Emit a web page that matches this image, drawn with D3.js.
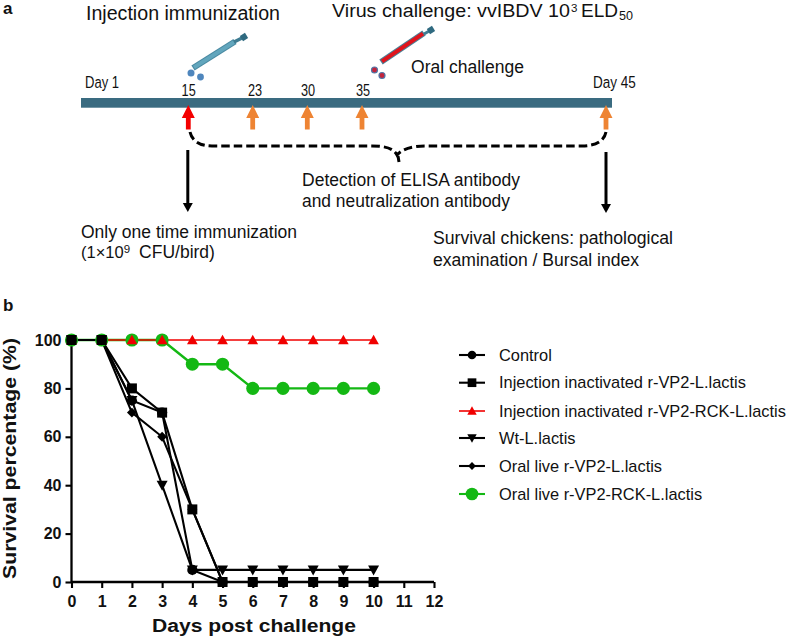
<!DOCTYPE html>
<html><head><meta charset="utf-8"><script src="https://cdnjs.cloudflare.com/ajax/libs/d3/7.8.5/d3.min.js"></script>
<style>html,body{margin:0;padding:0;background:#fff}svg{display:block}text{font-family:"Liberation Sans",Arial,sans-serif;fill:#111}</style></head><body><svg id="c" width="797" height="637"></svg>
<script>
const days=[0,1,2,3,4,5,6,7,8,9,10];
const xTicks=[0,1,2,3,4,5,6,7,8,9,10,11,12];
const yTicks=[0,20,40,60,80,100];
const seriesNames=["Control","Injection inactivated r-VP2-L.lactis","Injection inactivated r-VP2-RCK-L.lactis","Wt-L.lactis","Oral live r-VP2-L.lactis","Oral live r-VP2-RCK-L.lactis"];
const control=[100,100,75,70,5,0,0,0,0,0,0];
const injVP2=[100,100,80,70,30,0,0,0,0,0,0];
const injRCK=[100,100,100,100,100,100,100,100,100,100,100];
const wt=[100,100,75,40,5,5,5,5,5,5,5];
const oralVP2=[100,100,70,60,30,0,0,0,0,0,0];
const oralRCK=[100,100,100,100,90,90,80,80,80,80,80];
const scheduleDays=[15,23,30,35,45];
const svg=d3.select("#c");
const x=d3.scaleLinear().domain([0,12]).range([71.5,434]);
const y=d3.scaleLinear().domain([0,100]).range([582,340]);
const sym=(t,s)=>d3.symbol().type(t).size(s)();
const down={draw(c,s){const r=Math.sqrt(s)/1.5;c.moveTo(-r,-r*.8);c.lineTo(r,-r*.8);c.lineTo(0,r);c.closePath();}};
const up={draw(c,s){const r=Math.sqrt(s)/1.5;c.moveTo(-r,r*.8);c.lineTo(r,r*.8);c.lineTo(0,-r);c.closePath();}};
const dia={draw(c,s){const r=Math.sqrt(s)/1.4;c.moveTo(0,-r);c.lineTo(r,0);c.lineTo(0,r);c.lineTo(-r,0);c.closePath();}};
const S={
 control:{v:control,color:"#000",lw:2.1,type:d3.symbolCircle,size:82,ls:58},
 injVP2:{v:injVP2,color:"#000",lw:2.1,type:d3.symbolSquare,size:100,ls:76},
 oralVP2:{v:oralVP2,color:"#000",lw:2.1,type:dia,size:48,ls:30},
 wt:{v:wt,color:"#000",lw:2.1,type:down,size:68,ls:50},
 oralRCK:{v:oralRCK,color:"#14b814",lw:2.4,type:d3.symbolCircle,size:135,ls:125},
 injRCK:{v:injRCK,color:"#f00000",lw:1.3,type:up,size:64,ls:50}};
const line=d3.line().x((d,i)=>x(days[i])).y(d=>y(d));
const T=(s,px,py,size,o={})=>{const t=svg.append("text").attr("x",px).attr("y",py).attr("font-size",size).attr("font-weight",o.w||null).attr("text-anchor",o.a||"start").text(s);
 if(o.r)t.attr("transform",`rotate(${o.r} ${px} ${py})`);
 if(o.sx)t.attr("transform",`translate(${px} 0) scale(${o.sx} 1) translate(${-px} 0)`);
 if(o.len)t.attr("textLength",o.len).attr("lengthAdjust","spacingAndGlyphs");
 return t;};
T("a",3,14,17,{w:"bold"});T("b",3,311,17,{w:"bold"});
// timeline
const markerX={15:188.3,23:252.7,30:307.3,35:362,45:606};
const labelX={15:188.7,23:255,30:308,35:363};
svg.append("rect").attr("x",81).attr("y",98).attr("width",531).attr("height",9.7).attr("fill","#3a6b80");
T("Injection immunization",86,19.5,19.5,{len:194});
T("Virus challenge: vvIBDV 10",332,16.5,18,{len:238});
T("3",571,11.5,11.5);
T("ELD",581,16.5,18,{len:37});
T("50",619,20,12,{len:14});
T("Day 1",85,88,16.5,{sx:.79});
T("Day 45",593,88,16.5,{sx:.82});
T("Oral challenge",411,73,17.5,{len:113});
scheduleDays.slice(0,4).forEach(d=>T(String(d),labelX[d],96.5,16.5,{a:"middle",sx:.77}));
scheduleDays.forEach((d,i)=>{const c=i==0?"#f40000":"#ee8433",X=markerX[d];
 svg.append("path").attr("d",`M${X},105L${X+6.5},118L${X+2.4},118L${X+2.4},129.5L${X-2.4},129.5L${X-2.4},118L${X-6.5},118Z`).attr("fill",c);});
function syr(x0,y0,x1,y1,edge,body){
 svg.append("line").attr("x1",x0).attr("y1",y0).attr("x2",x1).attr("y2",y1).attr("stroke",edge).attr("stroke-width",6);
 svg.append("line").attr("x1",x0+1).attr("y1",y0-.6).attr("x2",x1-1).attr("y2",y1+.6).attr("stroke",body).attr("stroke-width",4);
}
syr(193,68,235,41.5,"#4a8aa2","#62a6bd");
svg.append("line").attr("x1",234).attr("y1",42).attr("x2",244).attr("y2",37).attr("stroke","#3f7c92").attr("stroke-width",3.5);
svg.append("rect").attr("x",241).attr("y",34).attr("width",6).attr("height",6).attr("transform","rotate(-32 244 37)").attr("fill","#2f6a80");
[[191,73,3.5],[200.5,77,3.4]].forEach(p=>svg.append("circle").attr("cx",p[0]).attr("cy",p[1]).attr("r",p[2]).attr("fill","#4f86bd"));
syr(381,62,424,33,"#4b7f95","#e0141c");
svg.append("line").attr("x1",424).attr("y1",34).attr("x2",431).attr("y2",30).attr("stroke","#3f7c92").attr("stroke-width",3);
svg.append("rect").attr("x",428).attr("y",27).attr("width",6).attr("height",6).attr("transform","rotate(-32 431 30)").attr("fill","#2f6a80");
[[374.5,70],[382,75.5]].forEach(p=>svg.append("circle").attr("cx",p[0]).attr("cy",p[1]).attr("r",3).attr("fill","#c2243c").attr("stroke","#4f78a8").attr("stroke-width",1.2));
svg.append("path").attr("d","M190,132C192,141 200,146 212,146L372,146C385,146 393,148 397,155C402,149 412,146 425,146L582,146C594,146 604,142 606,132").attr("fill","none").attr("stroke","#000").attr("stroke-width",3).attr("stroke-dasharray","8.5 4");
svg.append("line").attr("x1",398).attr("y1",156).attr("x2",399).attr("y2",162).attr("stroke","#000").attr("stroke-width",3);
[[187.8,150,212],[606,152,213]].forEach(a=>{svg.append("line").attr("x1",a[0]).attr("y1",a[1]).attr("x2",a[0]).attr("y2",a[2]-7).attr("stroke","#000").attr("stroke-width",3);
 svg.append("path").attr("d",`M${a[0]-5},${a[2]-9}L${a[0]+5},${a[2]-9}L${a[0]},${a[2]}Z`).attr("fill","#000");});
T("Detection of ELISA antibody",302,186,17.5,{len:218});
T("and neutralization antibody",302,207,17.5,{len:208});
T("Only one time immunization",81,237.5,17.5,{len:216});
const cfu=svg.append("text").attr("x",81).attr("y",258).attr("font-size",16.5).text("(1×10");
cfu.append("tspan").attr("font-size",11.5).attr("dy",-5).text("9");
cfu.append("tspan").attr("font-size",17.5).attr("dy",5).attr("dx",9).text("CFU/bird)");
T("Survival chickens: pathological",433,244,17.5,{len:240});
T("examination / Bursal index",433,266,17.5,{len:206});
// series lines
[S.oralRCK,S.injRCK,S.wt,S.oralVP2,S.control,S.injVP2].forEach(s=>{svg.append("path").attr("d",line(s.v)).attr("fill","none").attr("stroke",s.color).attr("stroke-width",s.lw);});
// axes
const gx=svg.append("g").attr("transform",`translate(0,582)`).call(d3.axisBottom(x).tickValues(xTicks).tickFormat(d3.format("d")).tickSize(6).tickPadding(8));
const gy=svg.append("g").attr("transform",`translate(71.5,0)`).call(d3.axisLeft(y).tickValues(yTicks).tickSize(6).tickPadding(4));
[gx,gy].forEach(g=>{g.selectAll("path.domain").attr("stroke","#000").attr("stroke-width",2.3);g.selectAll("line").attr("stroke","#000").attr("stroke-width",2.1);g.selectAll("text").attr("font-family","Liberation Sans").attr("font-size",16).attr("font-weight","bold").attr("fill","#000");});
gx.select("path.domain").attr("d","M71.5,0H434");gy.select("path.domain").attr("d","M0,340V582");
// markers
[S.oralRCK,S.injRCK,S.control,S.oralVP2,S.wt,S.injVP2].forEach(s=>{
 svg.append("g").selectAll("path").data(s.v).join("path").attr("d",sym(s.type,s.size)).attr("fill",s.color).attr("transform",(d,i)=>`translate(${x(days[i])},${y(d)})`);});
T("Days post challenge",152,632,17.5,{w:"bold",len:204});
T("Survival percentage (%)",15.5,579,19,{w:"bold",r:-90,len:241});
// legend
const legY=[355,382.7,411,438,466,494];
const legOrder=[S.control,S.injVP2,S.injRCK,S.wt,S.oralVP2,S.oralRCK];
legOrder.forEach((s,i)=>{const ly=legY[i];
 svg.append("line").attr("x1",459).attr("x2",485).attr("y1",ly).attr("y2",ly).attr("stroke",s.color).attr("stroke-width",s===S.injRCK?1.6:2.1);
 svg.append("path").attr("d",sym(s.type,s.ls)).attr("transform",`translate(472,${ly})`).attr("fill",s.color);
 T(seriesNames[i],499,ly+5.5,16.4);
});
</script></body></html>
